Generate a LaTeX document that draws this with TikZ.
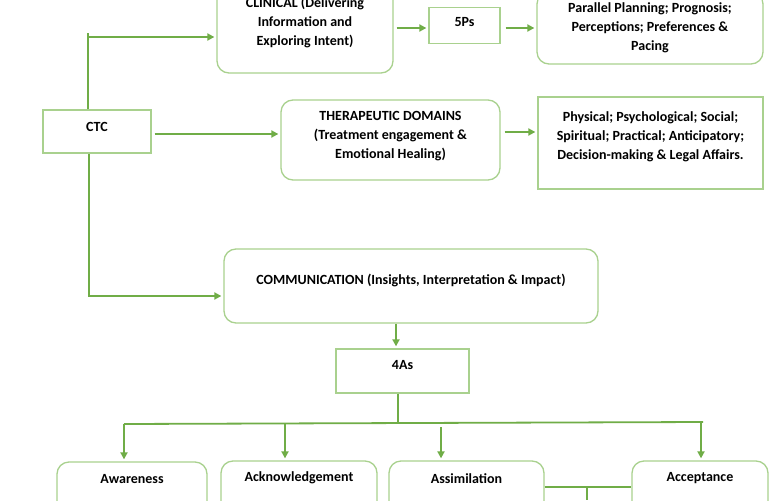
\documentclass[tikz,border=0pt]{standalone}
\usepackage{fontspec}
\setmainfont{Carlito}
\usetikzlibrary{arrows.meta}
\definecolor{lineg}{HTML}{70AD47}
\definecolor{boxg}{HTML}{A9D18E}
\tikzset{
  box/.style={draw=boxg, line width=1.3pt, fill=white, inner sep=0pt},
  rbox/.style={box, rounded corners=12pt},
  txt/.style={font=\bfseries\fontsize{14}{19}\selectfont, align=center, inner sep=0pt},
  conn/.style={draw=lineg, line width=1.8pt},
  arr/.style={conn, -{Triangle[length=7pt,width=7pt]}, shorten >=2pt},
}
\begin{document}
\begin{tikzpicture}[x=1pt,y=-1pt]
\useasboundingbox (0,0) rectangle (770,500);
\clip (0,0) rectangle (770,500);
\fill[white] (0,0) rectangle (770,500);
% top row
\node[rbox, minimum width=176pt, minimum height=102pt] (clin) at (305,22) {};
\node[txt] (clint) at (305,22) {CLINICAL (Delivering\\Information and\\Exploring Intent)};
\node[box, minimum width=71pt, minimum height=36pt] (fiveP) at (464.5,25.5) {};
\node[txt] (fivePt) at (464.5,22) {5Ps};
\node[rbox, minimum width=226pt, minimum height=72pt] (pp) at (650,28) {};
\node[txt] (ppt) at (650,28) {Parallel Planning; Prognosis;\\Perceptions; Preferences \&\\Pacing};
% middle row
\node[box, minimum width=108pt, minimum height=43pt] (ctc) at (97,131.5) {};
\node[txt] (ctct) at (97,127) {CTC};
\node[rbox, minimum width=219pt, minimum height=80pt] (ther) at (390.5,140) {};
\node[txt] (thert) at (390.5,136) {THERAPEUTIC DOMAINS\\(Treatment engagement \&\\Emotional Healing)};
\node[box, minimum width=225pt, minimum height=92pt] (dom) at (650.5,143) {};
\node[txt] (domt) at (650.5,137) {Physical; Psychological; Social;\\Spiritual; Practical; Anticipatory;\\Decision-making \& Legal Affairs.};
% communication
\node[rbox, minimum width=374pt, minimum height=74pt] (comm) at (411,286) {};
\node[txt] (commt) at (411,280) {COMMUNICATION (Insights, Interpretation \& Impact)};
\node[box, minimum width=133pt, minimum height=44pt] (four) at (402.5,371) {};
\node[txt] (fourt) at (402.5,365) {4As};
% bottom row
\node[rbox, minimum width=150pt, minimum height=80pt] (aw) at (132,502) {};
\node[txt] (awt) at (132,479) {Awareness};
\node[rbox, minimum width=156pt, minimum height=80pt] (ack) at (299,501) {};
\node[txt] (ackt) at (299,478) {Acknowledgement};
\node[rbox, minimum width=155pt, minimum height=80pt] (as) at (466.5,501) {};
\node[txt] (ast) at (466.5,479) {Assimilation};
\node[rbox, minimum width=136pt, minimum height=80pt] (ac) at (700,501) {};
\node[txt] (act) at (700,478) {Acceptance};
% coordinates
\coordinate (c1) at (88,33);
\coordinate (c2) at (88,37);
\coordinate (c3) at (89,296);
\coordinate (c4) at (396,0);
\coordinate (tc) at (0,134);
\coordinate (td) at (0,132);
\coordinate (tp) at (0,28);
\coordinate (b0) at (398,423);
\coordinate (bl) at (124,424);
\coordinate (br) at (703,422);
\coordinate (d2) at (285,0);
\coordinate (d3) at (441,0);
\coordinate (d4) at (701,0);
\coordinate (h) at (0,487);
\coordinate (v) at (587,487);
\coordinate (vb) at (587,500);
% connectors
\draw[conn] (ctc.north -| c1) -- (c1);
\draw[arr] (c2) -- (c2 -| clin.west);
\draw[arr, shorten <=3pt] (clin.east |- tp) -- (fiveP.west |- tp);
\draw[arr, shorten <=5pt] (fiveP.east |- tp) -- (pp.west |- tp);
\draw[arr, shorten <=3pt] (ctc.east |- tc) -- (ther.west |- tc);
\draw[arr, shorten <=4pt] (ther.east |- td) -- (dom.west |- td);
\draw[arr] (ctc.south -| c3) -- (c3) -- (c3 -| comm.west);
\draw[arr] (comm.south -| c4) -- (four.north -| c4);
\draw[conn] (four.south -| b0) -- (b0);
\draw[conn] (bl) -- (br);
\draw[arr] (bl) -- (bl |- aw.north);
\draw[arr] (d2 |- bl) -- (d2 |- ack.north);
\draw[arr, shorten <=3pt] (d3 |- bl) -- (d3 |- as.north);
\draw[arr] (d4 |- br) -- (d4 |- ac.north);
\draw[conn] (as.east |- h) -- (ac.west |- h);
\draw[conn] (v) -- (vb);
\end{tikzpicture}
\end{document}
